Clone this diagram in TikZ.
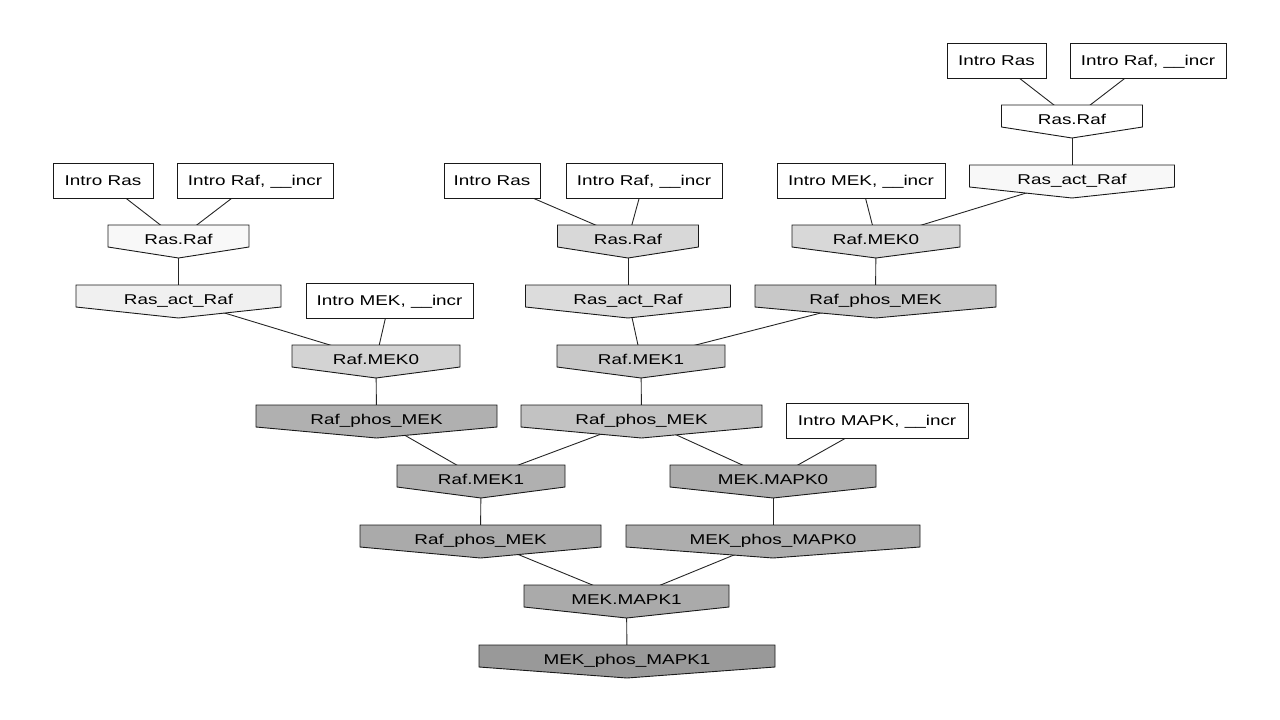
\documentclass[tikz,border=0pt]{standalone}
\usepackage{fontspec}
\setmainfont{Liberation Sans}[FakeStretch=1.33]
\usetikzlibrary{backgrounds}
\pgfdeclarelayer{shapes}
\pgfsetlayers{background,shapes,main}

% grey levels of the reaction boxes
\definecolor{g0}{HTML}{FFFFFF}
\definecolor{g1}{HTML}{F8F8F8}
\definecolor{g2}{HTML}{F0F0F0}
\definecolor{g3}{HTML}{D8D8D8}
\definecolor{g4}{HTML}{DCDCDC}
\definecolor{g5}{HTML}{D3D3D3}
\definecolor{g6}{HTML}{C8C8C8}
\definecolor{g7}{HTML}{C2C2C2}
\definecolor{g8}{HTML}{B0B0B0}
\definecolor{g9}{HTML}{ADADAD}
\definecolor{g10}{HTML}{AAAAAA}
\definecolor{g11}{HTML}{999999}

\tikzset{
  lbl/.style={font=\fontsize{14.2}{16}\selectfont, text height=10pt, text depth=0pt, inner sep=0pt},
  introbox/.style={lbl, draw=black!90, line width=0.9pt, fill=white, minimum height=35pt},
  housetext/.style={lbl},
  housepoly/.style={draw=black!90, line width=0.9pt, line join=miter},
  link/.style={draw=black!85, line width=0.9pt},
}

% \hnode{name}{centre x}{top y}{width}{fill}{text}: inverted-house reaction box
\newcommand{\hnode}[6]{%
  \node[housetext] (#1) at (#2,#3+14) {#6};
  \begin{pgfonlayer}{shapes}
    \path[housepoly, fill=#5] (#2-#4/2,#3) -- (#2+#4/2,#3) -- (#2+#4/2,#3+22)
      -- (#2,#3+33) -- (#2-#4/2,#3+22) -- cycle;
  \end{pgfonlayer}}
% \inode{name}{centre x}{top y}{width}{text}: introduction box
\newcommand{\inode}[5]{%
  \node[introbox, minimum width=#4] (#1) at (#2,#3+17.5) {#5};}

\begin{document}
\begin{tikzpicture}[x=1pt,y=-1pt]
\useasboundingbox (0,0) rectangle (1280,720);

% left branch
\inode{iRasA}{103}{163}{100}{Intro Ras}
\inode{iRafA}{255}{163}{156}{Intro Raf, \_\_incr}
\hnode{rrA}{178.5}{225}{141}{g1}{Ras.Raf}
\hnode{actA}{178.5}{285}{205}{g2}{Ras\_act\_Raf}
\inode{iMekA}{389.5}{283}{167}{Intro MEK, \_\_incr}
\hnode{rm0A}{376}{345}{168}{g5}{Raf.MEK0}
\hnode{phA}{376.5}{405}{241}{g8}{Raf\_phos\_MEK}
\hnode{rm1A}{481}{465}{168}{g8}{Raf.MEK1}
\hnode{phB}{480.5}{525}{241}{g10}{Raf\_phos\_MEK}

% middle branch
\inode{iRasB}{492}{163}{96}{Intro Ras}
\inode{iRafB}{644}{163}{156}{Intro Raf, \_\_incr}
\hnode{rrB}{628}{225}{141}{g3}{Ras.Raf}
\hnode{actB}{628}{285}{205}{g4}{Ras\_act\_Raf}
\hnode{rm1B}{641}{345}{168}{g6}{Raf.MEK1}
\hnode{phC}{641.5}{405}{241}{g7}{Raf\_phos\_MEK}
\inode{iMekB}{861}{163}{168}{Intro MEK, \_\_incr}
\hnode{rm0B}{876}{225}{168}{g3}{Raf.MEK0}
\hnode{phD}{875.5}{285}{241}{g6}{Raf\_phos\_MEK}
\inode{iMapk}{877}{403}{182}{Intro MAPK, \_\_incr}
\hnode{mm0}{773}{465}{206}{g9}{MEK.MAPK0}
\hnode{phM0}{773}{525}{294}{g9}{MEK\_phos\_MAPK0}

% right branch
\inode{iRasC}{996.5}{43}{99}{Intro Ras}
\inode{iRafC}{1148}{43}{156}{Intro Raf, \_\_incr}
\hnode{rrC}{1072}{105}{141}{g0}{Ras.Raf}
\hnode{actC}{1072}{165}{205}{g1}{Ras\_act\_Raf}

% bottom
\hnode{mm1}{626.5}{585}{205}{g10}{MEK.MAPK1}
\hnode{phM1}{627}{645}{296}{g11}{MEK\_phos\_MAPK1}

% connectors, drawn centre to centre beneath the filled boxes
\begin{pgfonlayer}{background}
\foreach \a/\b in {iRasA/rrA, iRafA/rrA, rrA/actA, actA/rm0A, iMekA/rm0A,
    rm0A/phA, phA/rm1A, rm1A/phB, phB/mm1,
    iRasB/rrB, iRafB/rrB, rrB/actB, actB/rm1B, phD/rm1B, rm1B/phC, phC/rm1A,
    iMekB/rm0B, rm0B/phD, actC/rm0B, phC/mm0, iMapk/mm0, mm0/phM0, phM0/mm1,
    iRasC/rrC, iRafC/rrC, rrC/actC, mm1/phM1}
  \draw[link] (\a.center) -- (\b.center);
\end{pgfonlayer}
\end{tikzpicture}
\end{document}
